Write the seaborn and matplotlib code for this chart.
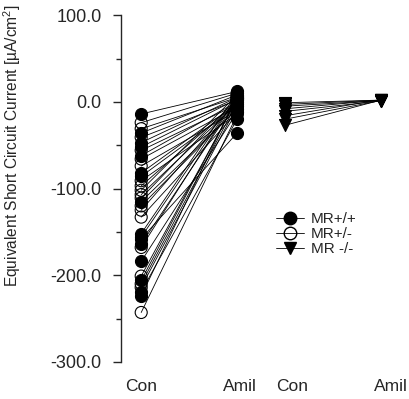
import numpy as np
import pandas as pd
import matplotlib
matplotlib.use("Agg")
import matplotlib.pyplot as plt
from matplotlib.lines import Line2D
from matplotlib.ticker import MultipleLocator, FormatStrFormatter
import seaborn as sns

# ---- data ----
conditions = ["Con", "Amil", "Con", "Amil"]
x_pos_wt = [1.0, 2.0]        # MR+/+ and MR+/- : Con, Amil
x_pos_ko = [2.5, 3.5]        # MR -/- : Con, Amil

wt_con = [-14, -36, -47, -52, -62, -82, -86, -115, -152, -156, -158, -164, -184, -206, -219, -224]
wt_amil = [12, 8, 5, 3, 0, -2, -5, -8, 10, 6, -36, 2, -12, 4, -20, 7]

het_con = [-24, -31, -41, -56, -66, -74, -91, -97, -102, -107, -111, -120, -125, -133, -168, -201, -210, -214, -243]
het_amil = [10, 5, 2, -3, -6, -10, -14, 0, 8, -2, 4, -8, 1, -12, 6, 3, -1, -5, -15]

ko_con = [-1, -3, -5, -8, -11, -16, -20, -27]
ko_amil = [2, 2, 1.5, 2, 1, 2.5, 1.5, 2]

genotypes = ["MR+/+", "MR+/-", "MR -/-"]
xtick_pos = [1.0, 2.03, 2.57, 3.6]

# ---- long-form table ----
rows = []
uid = 0
for g, con, amil, xp in [("MR+/+", wt_con, wt_amil, x_pos_wt),
                         ("MR+/-", het_con, het_amil, x_pos_wt),
                         ("MR -/-", ko_con, ko_amil, x_pos_ko)]:
    for c, a in zip(con, amil):
        rows.append(dict(uid=uid, geno=g, x=xp[0], y=c))
        rows.append(dict(uid=uid, geno=g, x=xp[1], y=a))
        uid += 1
df = pd.DataFrame(rows)

sns.set_style("ticks")
plt.rcParams["font.family"] = ["Liberation Sans", "DejaVu Sans"]
plt.rcParams["mathtext.fontset"] = "custom"
plt.rcParams["mathtext.rm"] = "Liberation Sans"

fig = plt.figure(figsize=(4.09, 3.99), dpi=100)
ax = fig.add_axes([0.296, 0.093, 0.694, 0.869])

sns.lineplot(data=df, x="x", y="y", units="uid", estimator=None, color="black",
             lw=0.6, legend=False, ax=ax, zorder=1)

ms = 75
d = df[df.geno == "MR+/+"]
sns.scatterplot(data=d, x="x", y="y", marker="o", color="black", edgecolor="black",
                s=ms, linewidth=0.8, legend=False, ax=ax, zorder=3)
d = df[df.geno == "MR+/-"]
sns.scatterplot(data=d, x="x", y="y", marker="o", facecolor="none", edgecolor="black",
                s=ms, linewidth=0.8, legend=False, ax=ax, zorder=3)
d = df[df.geno == "MR -/-"]
sns.scatterplot(data=d, x="x", y="y", marker="v", color="black", edgecolor="black",
                s=ms, linewidth=0.8, legend=False, ax=ax, zorder=3)

ax.set_xlim(0.79, 3.75)
ax.set_ylim(-300, 100)
ax.yaxis.set_major_locator(MultipleLocator(100))
ax.yaxis.set_minor_locator(MultipleLocator(50))
ax.yaxis.set_major_formatter(FormatStrFormatter("%.1f"))
ax.tick_params(axis="y", which="major", direction="out", length=6, width=1, labelsize=13, pad=8)
ax.tick_params(axis="y", which="minor", direction="out", length=3.5, width=1)
ax.set_xticks(xtick_pos)
ax.set_xticklabels(conditions, fontsize=12.5)
ax.tick_params(axis="x", length=0, pad=12)
ax.set_xlabel("")
ax.set_ylabel(r"Equivalent Short Circuit Current [µA/cm$^2$]", fontsize=11.2)
ax.yaxis.set_label_coords(-0.345, 0.625)
for s in ["top", "right", "bottom"]:
    ax.spines[s].set_visible(False)
ax.spines["left"].set_linewidth(1)

handles = [
    Line2D([], [], color="black", lw=0.6, marker="o", markerfacecolor="black",
           markeredgecolor="black", markersize=9),
    Line2D([], [], color="black", lw=0.6, marker="o", markerfacecolor="none",
           markeredgecolor="black", markersize=9),
    Line2D([], [], color="black", lw=0.6, marker="v", markerfacecolor="black",
           markeredgecolor="black", markersize=9),
]
fig.legend(handles, genotypes, loc="upper left", bbox_to_anchor=(0.66, 0.483),
           frameon=False, fontsize=11, handlelength=1.8, handletextpad=0.5,
           labelspacing=0.05, borderaxespad=0)

fig.savefig("out.png", dpi=100)
